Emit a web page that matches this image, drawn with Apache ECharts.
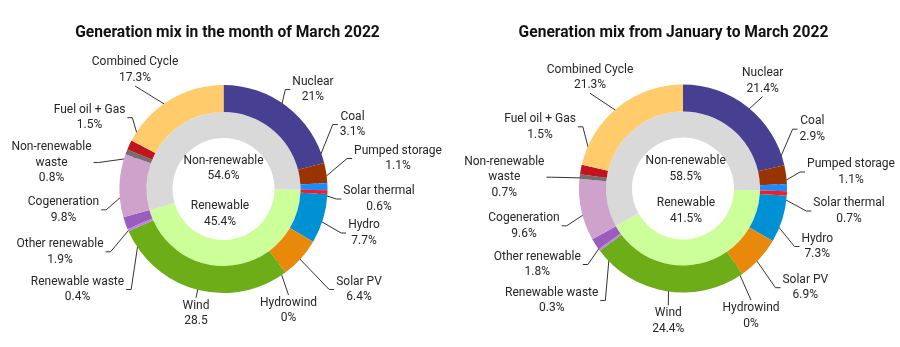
<!DOCTYPE html>
<html><head><meta charset="utf-8">
<script src="https://cdn.jsdelivr.net/npm/echarts@6/dist/echarts.min.js"></script>
<style>html,body{margin:0;padding:0;background:#fff}#c{width:900px;height:347px}</style>
</head><body><div id="c"></div>
<script>
// ---- data ----
const titles = ['Generation mix in the month of March 2022', 'Generation mix from January to March 2022'];
const sources = ['Nuclear','Coal','Pumped storage','Solar thermal','Hydro','Solar PV','Hydrowind','Wind','Renewable waste','Other renewable','Cogeneration','Non-renewable\nwaste','Fuel oil + Gas','Combined Cycle'];
const marchValues = [21, 3.1, 1.1, 0.6, 7.7, 6.4, 0, 28.5, 0.4, 1.9, 9.8, 0.8, 1.5, 17.3];
const marchText   = ['21%','3.1%','1.1%','0.6%','7.7%','6.4%','0%','28.5','0.4%','1.9%','9.8%','0.8%','1.5%','17.3%'];
const ytdValues   = [21.4, 2.9, 1.1, 0.7, 7.3, 6.9, 0, 24.4, 0.3, 1.8, 9.6, 0.7, 1.5, 21.3];
const ytdText     = ['21.4%','2.9%','1.1%','0.7%','7.3%','6.9%','0%','24.4%','0.3%','1.8%','9.6%','0.7%','1.5%','21.3%'];
const groups = ['Renewable', 'Non-renewable'];
const marchGroups = [45.4, 54.6];
const ytdGroups   = [41.5, 58.5];
const leadingNonRenewable = 3; // Nuclear, Coal, Pumped storage come before the renewables

// ---- styles / label placement (offsets from each pie centre) ----
const sourceColors = ['#463f92','#993300','#1a8cff','#ff1a1a','#0091d5','#e8890c','#2e7d32','#6cad18','#c084e8','#9b5cc0','#cfa2cc','#707070','#c0141e','#ffcb6b'];
const groupColors = ['#ccff99', '#d9d9d9'];
const FONT = 'Roboto';
const centers = [[223.5, 189], [683, 188.5]];
const titleX = [222.5, 668.5];
const outerPlace = [
  [[89.5,-99.5,'l'],[129,-64.5,'l'],[174.5,-30.5,'l'],[155.5,10,'l'],[140.5,44,'l'],[135.5,100.5,'l'],[65,121.7,'t'],
   [-27.5,124.5,'t'],[-146,100.5,'r'],[-163.5,62.8,'r'],[-160,20.8,'r'],[-172,-26.5,'r'],[-134,-71.3,'r'],[-88.5,-118.8,'b']],
  [[79.7,-107.7,'b'],[129.3,-59.3,'l'],[168,-16.5,'l'],[166,22.5,'l'],[134.3,58,'l'],[122.3,99.2,'l'],[68,127.3,'t'],
   [-14.7,132.7,'t'],[-131.3,112,'r'],[-145.7,76,'r'],[-159,37.3,'r'],[-178.7,-11.3,'r'],[-143,-61.7,'r'],[-93,-111,'b']]
];
const centerPlace = [[[-3.5,25.2],[0,-20.5]], [[3,22.7],[2.7,-19.3]]];
const LINE_R = 90;

const chart = echarts.init(document.getElementById('c'), null, {renderer: 'canvas'});

function buildSeries(idx, values, texts, grp) {
  const total = values.reduce((a, b) => a + b, 0);
  const lead = values.slice(0, leadingNonRenewable).reduce((a, b) => a + b, 0);
  const innerStart = 90 - 360 * lead / total;
  const c = centers[idx];
  // mid angles (clockwise from top) of each outer sector
  let acc = 0;
  const mids = values.map(v => { const m = (acc + v / 2) / total * 2 * Math.PI; acc += v; return m; });
  const outerData = sources.map((n, i) => ({name: n, value: values[i], txt: texts[i], itemStyle: {color: sourceColors[i]}}));
  const innerData = groups.map((n, i) => ({name: n, value: grp[i], txt: grp[i] + '%', itemStyle: {color: groupColors[i]}}));
  const clear = {color: 'rgba(0,0,0,0)'};
  const rich = {n: {align: 'center', fontFamily: FONT, fontSize: 12, color: '#262626', lineHeight: 15.5}};
  const fmt = p => p.data.name.split('\n').map(s => '{n|' + s + '}').join('\n') + '\n{n|' + p.data.txt + '}';
  return [
    {type: 'pie', center: c, radius: [51, 77], startAngle: innerStart, clockwise: true,
     silent: true, label: {show: false}, labelLine: {show: false}, data: innerData},
    {type: 'pie', center: c, radius: [77, 104], startAngle: 90, clockwise: true,
     silent: true, label: {show: false}, labelLine: {show: false}, data: outerData},
    {type: 'pie', center: c, radius: [0, 44], startAngle: innerStart, clockwise: true, silent: true,
     label: {show: true, position: 'inside', formatter: fmt, rich: rich, overflow: 'none'},
     labelLayout: p => {
       const pl = centerPlace[idx][p.dataIndex];
       return {x: c[0] + pl[0], y: c[1] + pl[1], align: 'center', verticalAlign: 'middle'};
     },
     data: innerData.map(d => ({name: d.name, value: d.value, txt: d.txt, itemStyle: clear}))},
    {type: 'pie', center: c, radius: [0, LINE_R], startAngle: 90, clockwise: true, silent: true,
     avoidLabelOverlap: false,
     label: {show: true, position: 'outside', formatter: fmt, rich: rich, overflow: 'none', alignTo: 'none'},
     labelLine: {show: true, length: 20, length2: 6, lineStyle: {color: '#333', width: 1}},
     labelLayout: p => {
       const pl = outerPlace[idx][p.dataIndex];
       const x = c[0] + pl[0], y = c[1] + pl[1];
       const w = p.labelRect.width, h = p.labelRect.height;
       const g = 2, hook = 5;
       let end, bend;
       if (pl[2] === 'l') { end = [x - w / 2 - g, y]; bend = [end[0] - hook, y]; }
       else if (pl[2] === 'r') { end = [x + w / 2 + g, y]; bend = [end[0] + hook, y]; }
       else if (pl[2] === 't') { end = [x, y - h / 2 - g]; bend = end; }
       else { end = [x, y + h / 2 + g]; bend = end; }
       const m = mids[p.dataIndex];
       const start = [c[0] + LINE_R * Math.sin(m), c[1] - LINE_R * Math.cos(m)];
       return {x: x, y: y, align: 'center', verticalAlign: 'middle', labelLinePoints: [start, bend, end]};
     },
     data: outerData.map(d => ({name: d.name, value: d.value, txt: d.txt, itemStyle: clear}))}
  ];
}

chart.setOption({
  backgroundColor: '#fff',
  animation: false,
  title: titles.map((t, i) => ({text: t, left: titleX[i], top: 20, textAlign: 'center',
    textStyle: {fontFamily: FONT, fontWeight: 'bold', fontSize: 15.6, color: '#111'}})),
  series: [].concat(buildSeries(0, marchValues, marchText, marchGroups), buildSeries(1, ytdValues, ytdText, ytdGroups))
});
</script></body></html>
